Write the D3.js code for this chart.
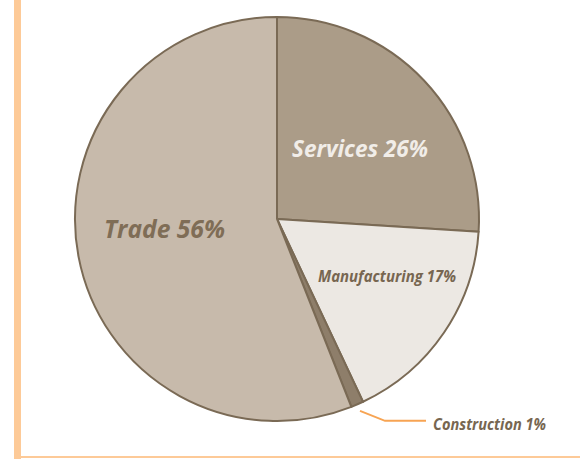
<!DOCTYPE html>
<html>
<head>
<meta charset="utf-8">
<script src="https://cdn.jsdelivr.net/npm/d3@7"></script>
<style>
  html, body { margin: 0; padding: 0; background: #fff; }
  svg { display: block; }
  text { font-family: "Open Sans", Lato, sans-serif; font-weight: 700; font-style: italic; }
</style>
</head>
<body>
<svg id="chart" width="580" height="459"></svg>
<script>
// Sector shares of establishments, percent
const categories = ["Services", "Manufacturing", "Construction", "Trade"];
const shares = [26, 17, 1, 56];
const fills = ["#ab9c88", "#ece8e3", "#8e7e6a", "#c7baab"];

const svg = d3.select("#chart");
const W = 580, H = 459;
const cx = 277, cy = 219, R = 202;

// Frame: left bar and bottom rule
svg.append("rect").attr("x", 14).attr("y", 0).attr("width", 7).attr("height", 459).attr("fill", "#fdca98");
svg.append("rect").attr("x", 14).attr("y", 456).attr("width", W - 14).attr("height", 2).attr("fill", "#fdca98");

const pie = d3.pie().sort(null).value(d => d)(shares);
const arc = d3.arc().innerRadius(0).outerRadius(R);

const g = svg.append("g").attr("transform", `translate(${cx},${cy})`);
g.selectAll("path")
  .data(pie)
  .join("path")
  .attr("d", arc)
  .attr("fill", (d, i) => fills[i])
  .attr("stroke", "#7a6a55")
  .attr("stroke-width", 2)
  .attr("stroke-linejoin", "round");

// Leader for the small Construction slice
const cons = pie[2];
const mid = (cons.startAngle + cons.endAngle) / 2;
const p0 = [Math.sin(mid) * (R + 7), -Math.cos(mid) * (R + 7)];
const p1 = [p0[0] + 25, p0[1] + 10];
const p2 = [p1[0] + 41, p1[1]];
g.append("polyline")
  .attr("points", [p0, p1, p2].map(p => p.join(",")).join(" "))
  .attr("fill", "none")
  .attr("stroke", "#f7a453")
  .attr("stroke-width", 2);

const labels = [
  { text: `${categories[0]} ${shares[0]}%`, x: 292, y: 157, size: 24, w: 136, color: "#f1ede8" },
  { text: `${categories[1]} ${shares[1]}%`, x: 318, y: 282, size: 16, w: 138, color: "#776651" },
  { text: `${categories[2]} ${shares[2]}%`, x: 433, y: 430, size: 15.5, w: 113, color: "#776651" },
  { text: `${categories[3]} ${shares[3]}%`, x: 104, y: 238, size: 25, w: 121, color: "#7f6d56" }
];
svg.selectAll("text.lbl")
  .data(labels)
  .join("text")
  .attr("class", "lbl")
  .attr("x", d => d.x)
  .attr("y", d => d.y)
  .attr("font-size", d => d.size)
  .attr("textLength", d => d.w)
  .attr("lengthAdjust", "spacingAndGlyphs")
  .attr("fill", d => d.color)
  .text(d => d.text);
</script>
</body>
</html>
